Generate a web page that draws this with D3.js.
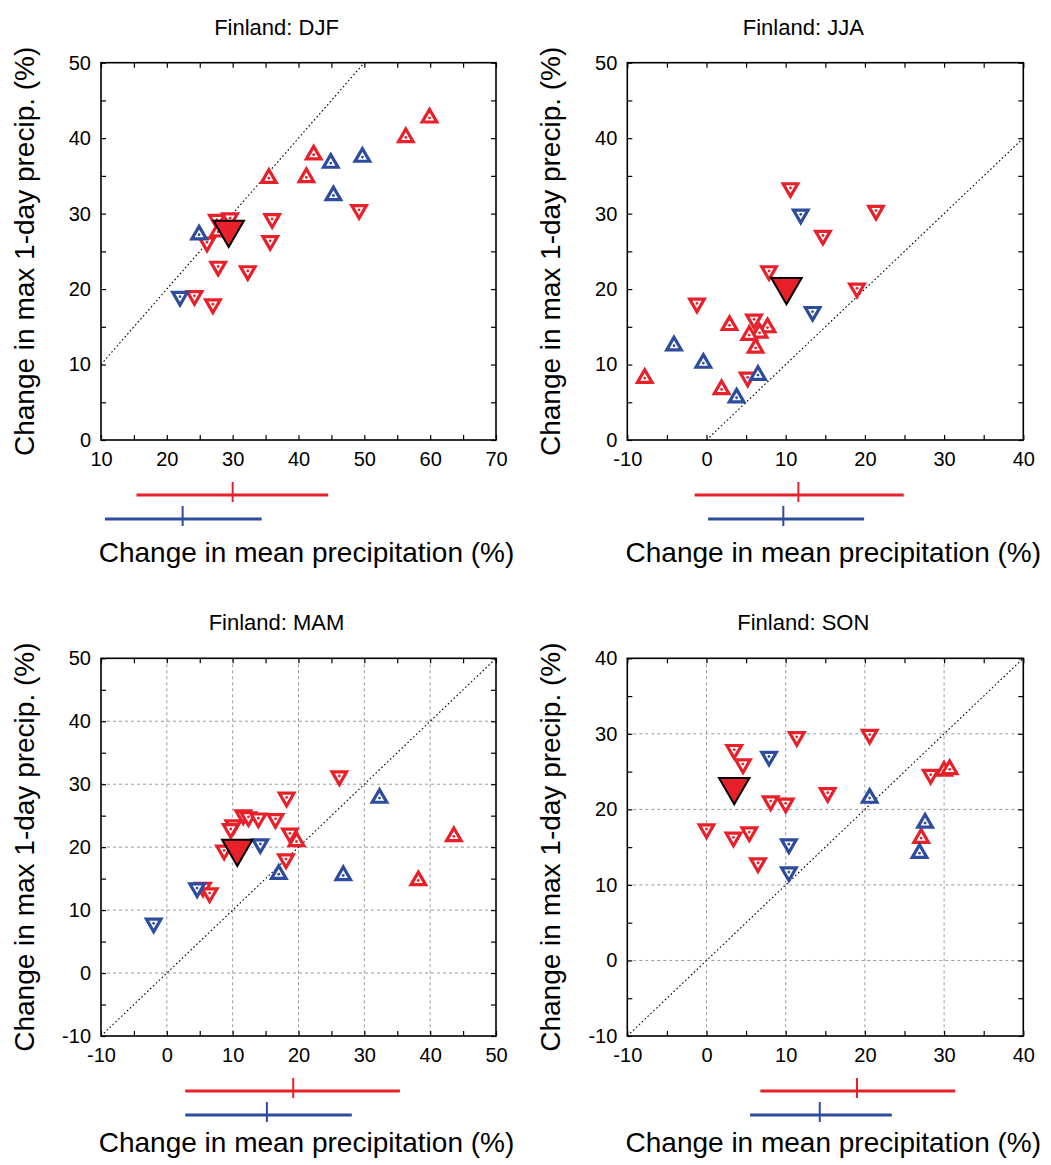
<!DOCTYPE html>
<html>
<head>
<meta charset="utf-8">
<script src="https://cdn.jsdelivr.net/npm/d3@7"></script>
<style>
  body { margin: 0; background: #fff; }
  svg { display: block; }
  text { font-family: "Liberation Sans", Arial, Helvetica, sans-serif; fill: #000; }
</style>
</head>
<body>
<svg id="chart" width="1051" height="1165"></svg>
<script>
// ---- Data: change in mean precipitation (x, %) vs change in max 1-day precipitation (y, %) ----

// Winter (DJF)
const djfXDomain = [10, 70];
const djfYDomain = [0, 50];
const djfRedUp = [[59.9, 42.7], [56.3, 40.1], [42.3, 37.8], [35.5, 34.7], [41.2, 34.8], [27.8, 27.6]];
const djfRedDown = [[49.2, 30.5], [36.0, 29.3], [35.7, 26.4], [27.8, 23.0], [32.3, 22.4], [24.2, 19.1],
                    [27.0, 18.0], [26.1, 26.2], [27.6, 29.2], [29.6, 29.4]];
const djfBlueUp = [[44.9, 36.7], [49.7, 37.5], [45.3, 32.4], [24.9, 27.2]];
const djfBlueDown = [[22.0, 19.0]];
const djfMean = [29.4, 27.9];
const djfRedRange = [15.4, 30.0, 44.5];   // [low, central, high]
const djfBlueRange = [10.6, 22.4, 34.4];

// Summer (JJA)
const jjaXDomain = [-10, 40];
const jjaYDomain = [0, 50];
const jjaRedUp = [[2.9, 15.2], [7.7, 14.9], [6.7, 14.2], [5.4, 13.9], [6.2, 12.2], [-7.8, 8.2], [1.9, 6.7]];
const jjaRedDown = [[10.6, 33.4], [21.4, 30.4], [14.7, 27.1], [7.9, 22.4], [19.0, 20.1], [-1.2, 18.1],
                    [6.0, 16.0], [5.2, 8.3]];
const jjaBlueUp = [[-4.1, 12.5], [-0.4, 10.2], [6.5, 8.6], [3.8, 5.6]];
const jjaBlueDown = [[11.9, 29.9], [13.4, 17.0]];
const jjaMean = [10.1, 20.3];
const jjaRedRange = [-1.5, 11.6, 24.9];
const jjaBlueRange = [0.2, 9.7, 19.9];

// Spring (MAM)
const mamXDomain = [-10, 50];
const mamYDomain = [-10, 50];
const mamRedUp = [[19.7, 20.9], [38.2, 14.7], [43.6, 21.7]];
const mamRedDown = [[26.2, 31.3], [18.2, 27.9], [11.6, 25.1], [12.4, 24.8], [13.9, 24.6], [16.5, 24.5],
                    [10.1, 23.5], [9.7, 22.9], [18.7, 22.2], [8.7, 19.5], [18.1, 18.1], [5.5, 13.6], [6.5, 12.7]];
const mamBlueUp = [[32.3, 27.8], [17.0, 15.7], [26.8, 15.5]];
const mamBlueDown = [[14.2, 20.5], [4.6, 13.5], [-2.0, 7.9]];
const mamMean = [10.7, 19.8];
const mamRedRange = [2.8, 19.2, 35.4];
const mamBlueRange = [2.8, 15.2, 28.1];

// Autumn (SON)
const sonXDomain = [-10, 40];
const sonYDomain = [-10, 40];
const sonRedUp = [[30.0, 25.1], [30.7, 25.3], [27.1, 16.2]];
const sonRedDown = [[11.4, 29.6], [20.6, 29.9], [3.5, 27.9], [4.6, 26.0], [28.3, 24.6], [15.3, 22.2],
                    [8.1, 21.1], [10.0, 20.8], [0.0, 17.4], [3.4, 16.3], [5.4, 17.0], [6.5, 12.9]];
const sonBlueUp = [[20.6, 21.5], [27.6, 18.2], [26.9, 14.2]];
const sonBlueDown = [[7.9, 27.0], [10.4, 15.4], [10.4, 11.7]];
const sonMean = [3.5, 23.0];
const sonRedRange = [6.8, 19.0, 31.4];
const sonBlueRange = [5.5, 14.3, 23.4];

const titles = ["Finland: DJF", "Finland: JJA", "Finland: MAM", "Finland: SON"];
const xLabel = "Change in mean precipitation (%)";
const yLabel = "Change in max 1-day precip. (%)";

// ---- Styling ----
const RED = "#e8202a";
const BLUE = "#2e4c9e";
const markerSize = 92;     // area of the small open triangles
const meanSize = 400;      // area of the large filled triangle

const panels = [
  { title: titles[0], xd: djfXDomain, yd: djfYDomain, grid: false, redUp: djfRedUp, redDown: djfRedDown,
    blueUp: djfBlueUp, blueDown: djfBlueDown, mean: djfMean, redRange: djfRedRange, blueRange: djfBlueRange,
    box: { left: 101, right: 496, top: 62.7, bottom: 440 }, xLabelGap: 122 },
  { title: titles[1], xd: jjaXDomain, yd: jjaYDomain, grid: false, redUp: jjaRedUp, redDown: jjaRedDown,
    blueUp: jjaBlueUp, blueDown: jjaBlueDown, mean: jjaMean, redRange: jjaRedRange, blueRange: jjaBlueRange,
    box: { left: 627.3, right: 1023.3, top: 62.7, bottom: 440 }, xLabelGap: 122 },
  { title: titles[2], xd: mamXDomain, yd: mamYDomain, grid: true, redUp: mamRedUp, redDown: mamRedDown,
    blueUp: mamBlueUp, blueDown: mamBlueDown, mean: mamMean, redRange: mamRedRange, blueRange: mamBlueRange,
    box: { left: 101, right: 496, top: 658.3, bottom: 1036 }, xLabelGap: 116 },
  { title: titles[3], xd: sonXDomain, yd: sonYDomain, grid: true, redUp: sonRedUp, redDown: sonRedDown,
    blueUp: sonBlueUp, blueDown: sonBlueDown, mean: sonMean, redRange: sonRedRange, blueRange: sonBlueRange,
    box: { left: 627.3, right: 1023.3, top: 658.3, bottom: 1036 }, xLabelGap: 116 }
];

const svg = d3.select("#chart");
const tri = d3.symbol().type(d3.symbolTriangle);

function drawPanel(p, idx) {
  const b = p.box;
  const w = b.right - b.left, h = b.bottom - b.top;
  const x = d3.scaleLinear().domain(p.xd).range([0, w]);
  const y = d3.scaleLinear().domain(p.yd).range([h, 0]);
  const g = svg.append("g").attr("transform", `translate(${b.left},${b.top})`);

  const clipId = "clip" + idx;
  g.append("clipPath").attr("id", clipId).append("rect").attr("width", w).attr("height", h);

  const minorX = d3.range(p.xd[0], p.xd[1] + 0.01, 5);
  const minorY = d3.range(p.yd[0], p.yd[1] + 0.01, 5);
  const majorX = d3.range(p.xd[0], p.xd[1] + 0.01, 10);
  const majorY = d3.range(p.yd[0], p.yd[1] + 0.01, 10);

  // dashed grid
  if (p.grid) {
    const gg = g.append("g").attr("stroke", "#9a9a9a").attr("stroke-width", 1).attr("stroke-dasharray", "3,3");
    gg.selectAll("line.vx").data(majorX.slice(1, -1)).join("line")
      .attr("x1", d => x(d)).attr("x2", d => x(d)).attr("y1", 0).attr("y2", h);
    gg.selectAll("line.hy").data(majorY.slice(1, -1)).join("line")
      .attr("y1", d => y(d)).attr("y2", d => y(d)).attr("x1", 0).attr("x2", w);
  }

  // 1:1 line
  const lo = Math.max(p.xd[0], p.yd[0]), hi = Math.min(p.xd[1], p.yd[1]);
  g.append("line")
    .attr("x1", x(lo)).attr("y1", y(lo)).attr("x2", x(hi)).attr("y2", y(hi))
    .attr("stroke", "#000").attr("stroke-width", 1.1).attr("stroke-dasharray", "1.6,2.4");

  // axes with inward ticks on all four sides
  const fmt = d => (d % 10 === 0 ? String(d) : "");
  const axB = g.append("g").attr("transform", `translate(0,${h})`)
    .call(d3.axisBottom(x).tickValues(minorX).tickSize(-5).tickPadding(12).tickFormat(fmt));
  const axL = g.append("g")
    .call(d3.axisLeft(y).tickValues(minorY).tickSize(-5).tickPadding(10).tickFormat(fmt));
  g.append("g").call(d3.axisTop(x).tickValues(minorX).tickSize(-5).tickFormat(""));
  g.append("g").attr("transform", `translate(${w},0)`)
    .call(d3.axisRight(y).tickValues(minorY).tickSize(-5).tickFormat(""));
  g.selectAll(".domain").remove();
  g.selectAll(".tick line").attr("stroke", "#000").attr("stroke-width", 1.2);
  [axB, axL].forEach(a => a.selectAll("text").attr("font-size", 20)
    .attr("font-family", '"Liberation Sans", Arial, sans-serif').attr("fill", "#000"));

  // frame
  g.append("rect").attr("width", w).attr("height", h)
    .attr("fill", "none").attr("stroke", "#000").attr("stroke-width", 1.6);

  // markers
  const mg = g.append("g").attr("clip-path", `url(#${clipId})`);
  function drawSet(data, color, down) {
    const s = mg.append("g");
    const grp = s.selectAll("g").data(data).join("g")
      .attr("transform", d => `translate(${x(d[0])},${y(d[1])})`);
    grp.append("path")
      .attr("d", tri.size(markerSize)())
      .attr("transform", down ? "rotate(180)" : null)
      .attr("fill", "#fff").attr("stroke", color).attr("stroke-width", 3.2)
      .attr("stroke-linejoin", "miter");
    grp.append("circle").attr("r", 1.4).attr("fill", color);
  }
  drawSet(p.redDown, RED, true);
  drawSet(p.redUp, RED, false);
  drawSet(p.blueDown, BLUE, true);
  drawSet(p.blueUp, BLUE, false);

  // ensemble mean: large filled triangle
  mg.append("path")
    .attr("d", tri.size(meanSize)())
    .attr("transform", `translate(${x(p.mean[0])},${y(p.mean[1])}) rotate(180)`)
    .attr("fill", RED).attr("stroke", "#000").attr("stroke-width", 2);

  // range bars below the axis
  const bars = [[p.redRange, RED, 55], [p.blueRange, BLUE, 79]];
  bars.forEach(([r, c, off]) => {
    const yy = h + off;
    g.append("line").attr("x1", x(r[0])).attr("x2", x(r[2])).attr("y1", yy).attr("y2", yy)
      .attr("stroke", c).attr("stroke-width", 3);
    g.append("line").attr("x1", x(r[1])).attr("x2", x(r[1])).attr("y1", yy - 13).attr("y2", yy + 7)
      .attr("stroke", c).attr("stroke-width", 2);
  });

  // title and axis labels
  g.append("text").attr("x", w / 2 - 22).attr("y", -28)
    .attr("text-anchor", "middle").attr("font-size", 22).text(p.title);
  g.append("text").attr("x", w / 2 + 8).attr("y", h + p.xLabelGap)
    .attr("text-anchor", "middle").attr("font-size", 28).text(xLabel);
  g.append("text").attr("transform", `translate(-67,${h / 2}) rotate(-90)`)
    .attr("text-anchor", "middle").attr("font-size", 28).text(yLabel);
}

panels.forEach(drawPanel);
</script>
</body>
</html>
